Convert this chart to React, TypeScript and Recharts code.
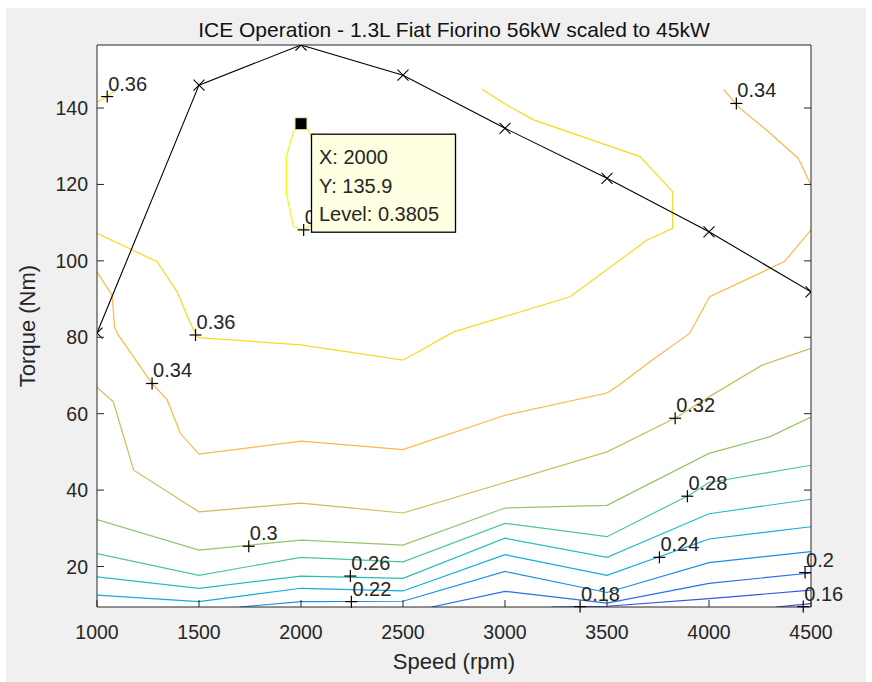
import React from 'react';
import { LineChart, Line, XAxis, YAxis, CartesianGrid, ReferenceDot } from 'recharts';

const FONT = '"Liberation Sans", Arial, Helvetica, sans-serif';
const INK = '#262626';

const speedTicks = [1000, 1500, 2000, 2500, 3000, 3500, 4000, 4500];
const torqueTicks = [20, 40, 60, 80, 100, 120, 140];
const speedMin = 1000;
const speedMax = 4500;
const torqueMin = 9.4;
const torqueMax = 156.5;

// full load curve (rpm, Nm)
const wotSpeed = [1000, 1500, 2000, 2500, 3000, 3500, 4000, 4500];
const wotTorque = [81.1, 146.0, 156.5, 148.6, 134.7, 121.6, 107.6, 91.9];

// efficiency iso-lines, [rpm, Nm]
const eff016 = [[4330, 9.4], [4500, 10.3]];
const eff018 = [[3230, 9.4], [3500, 9.6], [4000, 11.6], [4500, 13.8]];
const eff020 = [[2640, 9.4], [3000, 13.5], [3500, 10.4], [4000, 15.6], [4500, 18.3]];
const eff022 = [[1700, 9.4], [2000, 10.8], [2500, 10.9], [3000, 18.7], [3500, 13.2], [4000, 21.0], [4500, 23.9]];
const eff024 = [[1000, 12.5], [1500, 10.8], [2000, 14.3], [2500, 13.6], [3000, 23.1], [3500, 17.7], [4000, 27.2], [4500, 30.4]];
const eff026 = [[1000, 17.3], [1500, 14.3], [2000, 17.5], [2500, 16.9], [3000, 27.4], [3500, 22.4], [4000, 33.8], [4500, 37.6]];
const eff028 = [[1000, 23.4], [1500, 17.7], [2000, 22.4], [2500, 21.2], [3000, 31.3], [3500, 27.8], [3900, 38.6], [4000, 42.0], [4500, 46.5]];
const eff030 = [[1000, 32.3], [1500, 24.3], [2000, 26.9], [2500, 25.6], [3000, 35.3], [3500, 36.0], [4000, 49.6], [4300, 54.0], [4500, 59.1]];
const eff032 = [[1000, 66.9], [1080, 63.1], [1180, 45.2], [1500, 34.3], [2000, 36.6], [2500, 34.0], [3000, 42.0], [3500, 50.0], [3840, 59.0], [4000, 64.4], [4260, 72.7], [4500, 77.1]];
const eff034 = [[1000, 97.1], [1074, 91.0], [1086, 82.7], [1099, 81.0], [1270, 67.9], [1344, 63.6], [1409, 54.8], [1500, 49.4], [2000, 52.8], [2500, 50.6], [3000, 59.6], [3500, 65.4], [3560, 67.5], [3710, 73.6], [3905, 81.0], [4003, 90.6], [4370, 99.8], [4500, 108.1]];
const eff034b = [[4071, 144.9], [4144, 140.3], [4283, 134.2], [4438, 126.8], [4500, 119.8]];
const eff036 = [[1000, 107.2], [1295, 99.8], [1393, 91.9], [1458, 83.6], [1490, 80.3], [1500, 79.9], [2000, 78.0], [2500, 74.0], [2748, 81.4], [3319, 90.6], [3695, 105.4], [3822, 108.5], [3822, 118.1], [3662, 127.3], [3140, 136.9], [3009, 140.8], [2887, 144.9]];
const eff036b = [[1000, 141.6], [1050, 143.0], [1090, 144.5]];
const eff038 = [[2035, 134.3], [2000, 135.9], [1963, 133.8], [1928, 127.3], [1928, 117.7], [1963, 108.9], [2013, 108.1], [2060, 110.0], [2075, 120.0], [2065, 130.0], [2035, 134.3]];

const contourLevels = [0.16, 0.18, 0.2, 0.22, 0.24, 0.26, 0.28, 0.3, 0.32, 0.34, 0.34, 0.36, 0.36, 0.38];
const contourPoints = [eff016, eff018, eff020, eff022, eff024, eff026, eff028, eff030, eff032, eff034, eff034b, eff036, eff036b, eff038];

// parula-like colours per level
const levelColors: Record<string, string> = {
  '0.16': '#4242D0',
  '0.18': '#3656E0',
  '0.2': '#2A6FEB',
  '0.22': '#1B8FE6',
  '0.24': '#14ABDB',
  '0.26': '#27BDBF',
  '0.28': '#4DC4A2',
  '0.3': '#96C468',
  '0.32': '#CDBC5C',
  '0.34': '#FCB944',
  '0.36': '#F9D81F',
  '0.38': '#F8F218',
};

// clabel positions
const labelLevels = [0.36, 0.36, 0.34, 0.38, 0.34, 0.32, 0.3, 0.28, 0.26, 0.22, 0.24, 0.2, 0.18, 0.16];
const labelSpeed = [1050, 1483, 1270, 2013, 4134, 3834, 1744, 3894, 2242, 2247, 3757, 4471, 3368, 4462];
const labelTorque = [143.0, 80.6, 67.9, 108.1, 141.2, 58.8, 25.3, 38.4, 17.5, 10.8, 22.4, 18.4, 9.5, 9.5];

// data cursor
const tipSpeed = 2000;
const tipTorque = 135.9;
const tipLevel = 0.3805;

const wotData = wotSpeed.map((s, i) => ({ s, t: wotTorque[i] }));
const contours = contourPoints.map((pts, i) => ({
  level: contourLevels[i],
  data: pts.map(([s, t]) => ({ s, t })),
}));
const labels = labelLevels.map((level, i) => ({ level, s: labelSpeed[i], t: labelTorque[i] }));

const textStyle = { fontFamily: FONT, fill: INK };

const BottomTick = ({ x, y, payload }: any) => (
  <g>
    <line x1={x} y1={y} x2={x} y2={y - 7} stroke={INK} />
    <text x={x} y={y + 31.5} textAnchor="middle" fontSize={19.5} {...textStyle}>{payload.value}</text>
  </g>
);
const TopTick = ({ x, y }: any) => <line x1={x} y1={y} x2={x} y2={y + 7} stroke={INK} />;
const LeftTick = ({ x, y, payload }: any) => (
  <g>
    <line x1={x} y1={y} x2={x + 7} y2={y} stroke={INK} />
    <text x={x - 9} y={y + 7} textAnchor="end" fontSize={19.5} {...textStyle}>{payload.value}</text>
  </g>
);
const RightTick = ({ x, y }: any) => <line x1={x} y1={y} x2={x - 7} y2={y} stroke={INK} />;

const XMark = ({ cx, cy }: any) => (
  <g>
    <line x1={cx - 5.5} y1={cy - 5.5} x2={cx + 5.5} y2={cy + 5.5} stroke="#000" strokeWidth={1.1} />
    <line x1={cx - 5.5} y1={cy + 5.5} x2={cx + 5.5} y2={cy - 5.5} stroke="#000" strokeWidth={1.1} />
  </g>
);

const PlusLabel = ({ cx, cy, text }: any) => (
  <g>
    <line x1={cx - 6} y1={cy} x2={cx + 6} y2={cy} stroke="#000" strokeWidth={1.2} />
    <line x1={cx} y1={cy - 6} x2={cx} y2={cy + 6} stroke="#000" strokeWidth={1.2} />
    <text x={cx + 1} y={cy - 6} fontSize={20} {...textStyle}>{text}</text>
  </g>
);

const DataTip = ({ cx, cy }: any) => (
  <g>
    <rect x={cx - 6} y={cy - 6} width={12} height={12} fill="#000" stroke="#F2EDA6" />
    <rect x={cx + 10.5} y={cy + 10.5} width={144} height={98} fill="#FFFFE1" stroke="#000" strokeWidth={1.3} />
    <text x={cx + 18} y={cy + 40} fontSize={20} {...textStyle}>X: {tipSpeed}</text>
    <text x={cx + 18} y={cy + 69} fontSize={20} {...textStyle}>Y: {tipTorque}</text>
    <text x={cx + 18} y={cy + 97.5} fontSize={20} {...textStyle}>Level: {tipLevel}</text>
  </g>
);

export default function App() {
  return (
    <div style={{ position: 'absolute', left: 0, top: 0, width: 872, height: 682, background: '#fff', overflow: 'hidden' }}>
      <div style={{ position: 'absolute', left: 6, top: 8, width: 860, height: 674, background: '#F0F0F0' }} />
      <div style={{ position: 'absolute', left: 0, top: 0 }}>
        <LineChart width={872} height={682} margin={{ top: 0, right: 0, bottom: 0, left: 0 }}>
          <CartesianGrid fill="#ffffff" horizontal={false} vertical={false} stroke="none" />
          <XAxis
            dataKey="s"
            type="number"
            domain={[speedMin, speedMax]}
            ticks={speedTicks}
            allowDataOverflow
            height={75}
            tickSize={0}
            tickMargin={0}
            tickLine={false}
            axisLine={{ stroke: INK }}
            tick={<BottomTick />}
            interval={0}
          />
          <XAxis
            xAxisId="top"
            orientation="top"
            type="number"
            domain={[speedMin, speedMax]}
            ticks={speedTicks}
            allowDataOverflow
            height={45}
            tickSize={0}
            tickMargin={0}
            tickLine={false}
            axisLine={{ stroke: INK }}
            tick={<TopTick />}
            interval={0}
          />
          <YAxis
            type="number"
            domain={[torqueMin, torqueMax]}
            ticks={torqueTicks}
            allowDataOverflow
            width={97}
            tickSize={0}
            tickMargin={0}
            tickLine={false}
            axisLine={{ stroke: INK }}
            tick={<LeftTick />}
            interval={0}
          />
          <YAxis
            yAxisId="right"
            orientation="right"
            type="number"
            domain={[torqueMin, torqueMax]}
            ticks={torqueTicks}
            allowDataOverflow
            width={61}
            tickSize={0}
            tickMargin={0}
            tickLine={false}
            axisLine={{ stroke: INK }}
            tick={<RightTick />}
            interval={0}
          />
          {contours.map((c, i) => (
            <Line
              key={`eff-${i}`}
              data={c.data}
              dataKey="t"
              type="linear"
              stroke={levelColors[String(c.level)]}
              strokeWidth={1.2}
              dot={false}
              activeDot={false}
              isAnimationActive={false}
            />
          ))}
          <Line
            data={wotData}
            dataKey="t"
            type="linear"
            stroke="#000"
            strokeWidth={1.1}
            dot={(p: any) => <XMark key={`wot-${p.index}`} cx={p.cx} cy={p.cy} />}
            activeDot={false}
            isAnimationActive={false}
          />
          {labels.map((l, i) => (
            <ReferenceDot
              key={`lbl-${i}`}
              x={l.s}
              y={l.t}
              r={6}
              shape={(p: any) => <PlusLabel cx={p.cx} cy={p.cy} text={String(l.level)} />}
            />
          ))}
          <ReferenceDot x={tipSpeed} y={tipTorque} r={6} shape={(p: any) => <DataTip cx={p.cx} cy={p.cy} />} />
        </LineChart>
      </div>
      <svg width={872} height={682} style={{ position: 'absolute', left: 0, top: 0, pointerEvents: 'none' }}>
        <text x={454} y={37} textAnchor="middle" fontSize={21} fontFamily={FONT} fill="#111">
          ICE Operation - 1.3L Fiat Fiorino 56kW scaled to 45kW
        </text>
        <text x={454} y={669} textAnchor="middle" fontSize={22} fontFamily={FONT} fill={INK}>
          Speed (rpm)
        </text>
        <text x={35} y={326} textAnchor="middle" fontSize={22} fontFamily={FONT} fill={INK} transform="rotate(-90 35 326)">
          Torque (Nm)
        </text>
      </svg>
    </div>
  );
}
